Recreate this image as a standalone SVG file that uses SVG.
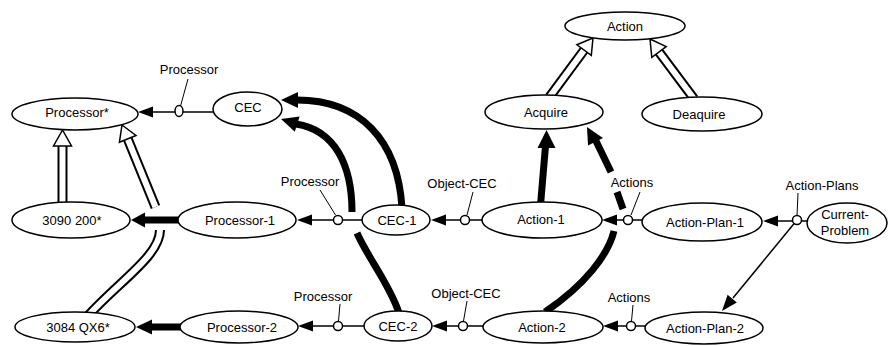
<svg xmlns="http://www.w3.org/2000/svg" width="891" height="346" viewBox="0 0 891 346">
<style>
text{font-family:"Liberation Sans",Arial,Helvetica,sans-serif;font-size:13px;fill:#000;text-anchor:middle}
.node ellipse{fill:#fff;stroke:#000;stroke-width:1.5}
.thin{stroke:#000;stroke-width:1.5;fill:none}
.lead{stroke:#000;stroke-width:1;fill:none}
.thick{stroke:#000;stroke-width:7;fill:none}
.dbo{stroke:#000;stroke-width:10;fill:none}
.dbi{stroke:#fff;stroke-width:6;fill:none}
.hd{fill:#000;stroke:none}
.hol{fill:#fff;stroke:#000;stroke-width:1.5}
.ring{fill:#fff;stroke:#000;stroke-width:1.5}
</style>
<rect width="891" height="346" fill="#fff"/>
<g id="connectors">
  <!-- inheritance: 3090 200* -> Processor* -->
  <path class="dbo" d="M62.5 146 L62.5 206"/>
  <path class="dbi" d="M62.5 146 L62.5 206"/>
  <polygon class="hol" points="62.5,130 53.5,146 71.5,146"/>
  <!-- inheritance: 3084 QX6* -> Processor* (with gap) -->
  <path class="dbo" d="M160 230 C160 256 118 282 86 318"/>
  <path class="dbi" d="M160 230 C160 256 118 282 86 318"/>
  <path class="dbo" d="M127.7 138.9 L155.5 207"/>
  <path class="dbi" d="M127.7 138.9 L155.5 207"/>
  <polygon class="hol" points="122,125 136,135.5 119.4,142.3"/>
  <!-- inheritance: Acquire -> Action -->
  <path class="dbo" d="M584.1 50.1 L549.5 97"/>
  <path class="dbi" d="M584.1 50.1 L549.5 97"/>
  <polygon class="hol" points="593,38 591.3,55.4 576.9,44.8"/>
  <!-- inheritance: Deaquire -> Action -->
  <path class="dbo" d="M659 52 L694 98.7"/>
  <path class="dbi" d="M659 52 L694 98.7"/>
  <polygon class="hol" points="650,39 666.2,46.6 651.8,57.4"/>

  <!-- thick: Processor-1 -> 3090 200* -->
  <path class="thick" d="M180 220 L144 220"/>
  <polygon class="hd" points="131,220 145,212.5 145,227.5"/>
  <!-- thick: Processor-2 -> 3084 QX6* -->
  <path class="thick" d="M182 327 L151 327"/>
  <polygon class="hd" points="136,327 152,319.5 152,334.5"/>
  <!-- thick: CEC-1 -> CEC -->
  <path class="thick" d="M402 208 C398 140 360 100 297 100"/>
  <polygon class="hd" points="281,100 298,92 298,108"/>
  <!-- thick: CEC-2 -> CEC (with gap) -->
  <path class="thick" d="M399 313 C390 285 368 258 357 233"/>
  <path class="thick" d="M352 212 C352 165 335 130 296 124"/>
  <polygon class="hd" points="281,119 299.6,116.5 294.8,131.7"/>
  <!-- thick: Action-1 -> Acquire -->
  <path class="thick" d="M540.5 205 L545.5 146"/>
  <polygon class="hd" points="546.5,130 537.5,148 555.5,148"/>
  <!-- thick: Action-2 -> Acquire (with gaps) -->
  <path class="thick" d="M545 312 C585 285 608 255 614 231"/>
  <path class="thick" d="M623 209 L617 192"/>
  <path class="thick" d="M611 172 L596 141"/>
  <polygon class="hd" points="587,127 603,138 588,145.5"/>

  <!-- row 1: CEC -> Processor* -->
  <path class="thin" d="M214 112 L150 112"/>
  <polygon class="hd" points="138,112 153,106.5 153,117.5"/>
  <path class="lead" d="M188 79 L180.5 106"/>
  <ellipse class="ring" cx="179" cy="111" rx="4" ry="5.5"/>

  <!-- row 2 -->
  <path class="thin" d="M363 220 L310 220"/>
  <polygon class="hd" points="297,220 312,214.5 312,225.5"/>
  <path class="lead" d="M320 190 L335.5 215"/>
  <circle class="ring" cx="338" cy="220" r="4.5"/>

  <path class="thin" d="M483 220 L444 220"/>
  <polygon class="hd" points="431,220 446,214.5 446,225.5"/>
  <path class="lead" d="M473 192 L467 215"/>
  <circle class="ring" cx="465" cy="220" r="4.5"/>

  <path class="thin" d="M643 220 L615 220"/>
  <polygon class="hd" points="602,220 617,214.5 617,225.5"/>
  <path class="lead" d="M640 192 L631 215"/>
  <circle class="ring" cx="628" cy="220" r="4.5"/>

  <path class="thin" d="M808 221 L776 221"/>
  <polygon class="hd" points="763,221 778,215.5 778,226.5"/>
  <path class="lead" d="M798 193 L797 216"/>
  <path class="thin" d="M797 220 L733 298"/>
  <polygon class="hd" points="722,311 736.8,302.4 727.6,294.8"/>
  <circle class="ring" cx="797" cy="220" r="4.5"/>

  <!-- row 3 -->
  <path class="thin" d="M365 326 L311 326"/>
  <polygon class="hd" points="298,326 313,320.5 313,331.5"/>
  <path class="lead" d="M340 304 L338.5 321"/>
  <circle class="ring" cx="338" cy="326" r="4.5"/>

  <path class="thin" d="M484 326 L445 326"/>
  <polygon class="hd" points="432,326 447,320.5 447,331.5"/>
  <path class="lead" d="M467 301 L463.5 321"/>
  <circle class="ring" cx="463" cy="326" r="4.5"/>

  <path class="thin" d="M646 326 L616 326"/>
  <polygon class="hd" points="603,326 618,320.5 618,331.5"/>
  <path class="lead" d="M633 305 L631.5 321"/>
  <circle class="ring" cx="631" cy="326" r="4.5"/>

  <!-- relation labels -->
  <text x="189" y="74">Processor</text>
  <text x="310" y="186">Processor</text>
  <text x="462" y="188">Object-CEC</text>
  <text x="632" y="187">Actions</text>
  <text x="822" y="190">Action-Plans</text>
  <text x="323" y="301">Processor</text>
  <text x="466" y="298">Object-CEC</text>
  <text x="629" y="302">Actions</text>
</g>

<g id="n-action" class="node"><ellipse cx="625" cy="26" rx="60" ry="14"/><text x="625" y="30.5">Action</text></g>
<g id="n-processor-star" class="node"><ellipse cx="75" cy="114" rx="63" ry="16"/><text x="77" y="117">Processor*</text></g>
<g id="n-cec" class="node"><ellipse cx="247.5" cy="109" rx="34.5" ry="17"/><text x="248" y="112">CEC</text></g>
<g id="n-acquire" class="node"><ellipse cx="544" cy="112" rx="59" ry="17"/><text x="546" y="116.5">Acquire</text></g>
<g id="n-deaquire" class="node"><ellipse cx="702" cy="114" rx="60" ry="17"/><text x="699" y="118.5">Deaquire</text></g>

<g id="n-3090" class="node"><ellipse cx="71" cy="220" rx="59" ry="18"/><text x="72" y="224.5">3090 200*</text></g>
<g id="n-processor-1" class="node"><ellipse cx="237" cy="220" rx="59" ry="18"/><text x="240" y="224.5">Processor-1</text></g>
<g id="n-cec-1" class="node"><ellipse cx="396" cy="220" rx="34" ry="15"/><text x="397" y="225">CEC-1</text></g>
<g id="n-action-1" class="node"><ellipse cx="542" cy="220" rx="60" ry="18"/><text x="541" y="224">Action-1</text></g>
<g id="n-action-plan-1" class="node"><ellipse cx="702" cy="222" rx="60" ry="19"/><text x="705" y="226.5">Action-Plan-1</text></g>
<g id="n-current-problem" class="node"><ellipse cx="847" cy="223" rx="40" ry="20"/><text x="845" y="219">Current-</text><text x="845" y="235">Problem</text></g>

<g id="n-3084" class="node"><ellipse cx="75" cy="327" rx="60" ry="15"/><text x="78" y="331.5">3084 QX6*</text></g>
<g id="n-processor-2" class="node"><ellipse cx="239" cy="327" rx="59" ry="16"/><text x="242" y="331.5">Processor-2</text></g>
<g id="n-cec-2" class="node"><ellipse cx="398" cy="326" rx="34" ry="15"/><text x="398" y="330.5">CEC-2</text></g>
<g id="n-action-2" class="node"><ellipse cx="543" cy="327" rx="60" ry="16"/><text x="542" y="331.5">Action-2</text></g>
<g id="n-action-plan-2" class="node"><ellipse cx="704" cy="328" rx="59" ry="16"/><text x="705" y="332.5">Action-Plan-2</text></g>
</svg>
